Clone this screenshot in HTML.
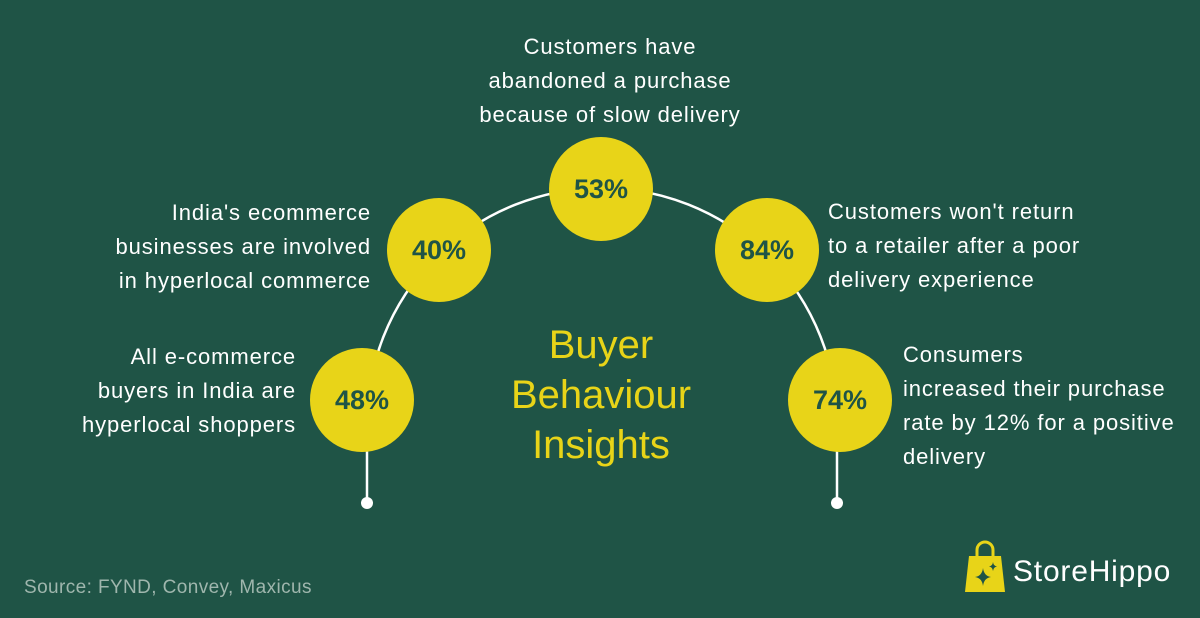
<!DOCTYPE html>
<html><head><style>
body{margin:0;width:1200px;height:618px;background:#1f5446;overflow:hidden;position:relative;font-family:"Liberation Sans",sans-serif;}
.t{position:absolute;color:#fff;font-size:22px;letter-spacing:0.9px;line-height:34px;white-space:nowrap;}
.c{position:absolute;width:104px;height:104px;border-radius:50%;background:#e8d418;color:#1f5446;font-weight:bold;font-size:27px;display:flex;align-items:center;justify-content:center;}
</style></head><body>
<svg width="1200" height="618" style="position:absolute;left:0;top:0">
<path d="M367 503 L367 423 A235 235 0 0 1 837 423 L837 503" fill="none" stroke="#fff" stroke-width="2.5"/>
<circle cx="367" cy="503" r="6" fill="#fff"/><circle cx="837" cy="503" r="6" fill="#fff"/>
</svg>
<div class="c" style="left:549px;top:137px">53%</div>
<div class="c" style="left:387px;top:198px">40%</div>
<div class="c" style="left:715px;top:198px">84%</div>
<div class="c" style="left:310px;top:348px">48%</div>
<div class="c" style="left:788px;top:348px">74%</div>
<div class="t" style="left:380px;width:460px;top:30px;text-align:center">Customers have<br>abandoned a purchase<br>because of slow delivery</div>
<div class="t" style="left:0px;width:371px;top:196px;text-align:right">India's ecommerce<br>businesses are involved<br>in hyperlocal commerce</div>
<div class="t" style="left:0;width:296px;top:340px;text-align:right">All e-commerce<br>buyers in India are<br>hyperlocal shoppers</div>
<div class="t" style="left:828px;top:195px">Customers won't return<br>to a retailer after a poor<br>delivery experience</div>
<div class="t" style="left:903px;top:338px">Consumers<br>increased their purchase<br>rate by 12% for a positive<br>delivery</div>
<div style="position:absolute;left:420px;width:362px;top:320px;text-align:center;color:#e8d418;font-size:40px;line-height:50px">Buyer<br>Behaviour<br>Insights</div>
<div style="position:absolute;left:24px;top:577px;color:#9fb6ad;font-size:19px;letter-spacing:0.4px">Source: FYND, Convey, Maxicus</div>
<svg width="44" height="56" style="position:absolute;left:963px;top:540px">
<path d="M14 16 V10 a8 8 0 0 1 16 0 V16" fill="none" stroke="#e8d418" stroke-width="3"/>
<path d="M6 16 H38 L42 52 H2 Z" fill="#e8d418"/>
<path d="M20 28 Q21 36 28 37 Q21 38 20 46 Q19 38 12 37 Q19 36 20 28Z" fill="#1f5446"/>
<path d="M30 22 Q30.5 26 34 26.5 Q30.5 27 30 31 Q29.5 27 26 26.5 Q29.5 26 30 22Z" fill="#1f5446"/>
</svg>
<div style="position:absolute;left:1013px;top:555px;color:#fff;font-size:30px;letter-spacing:0.8px">StoreHippo</div>
</body></html>
